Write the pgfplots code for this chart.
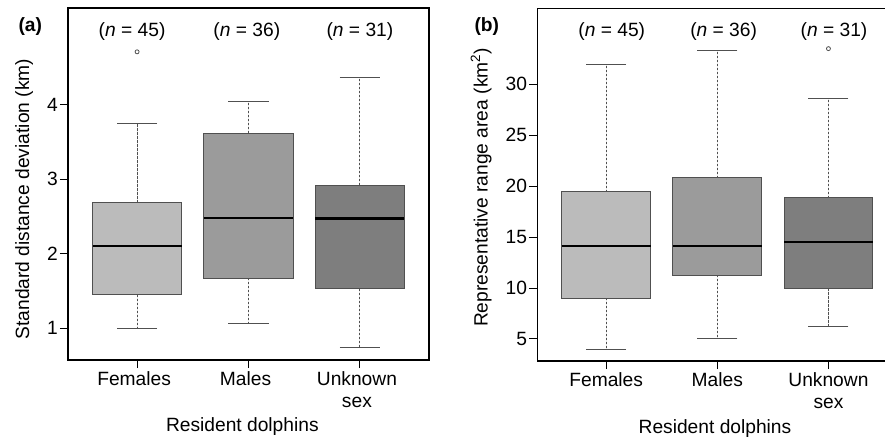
\documentclass[border=0pt]{standalone}
\usepackage{pgfplots}
\pgfplotsset{compat=1.18}
\usepgfplotslibrary{statistics}
\usepackage{fontspec}
\setmainfont{Liberation Sans}

\definecolor{femfill}{HTML}{BBBBBB}
\definecolor{malefill}{HTML}{9B9B9B}
\definecolor{unkfill}{HTML}{7E7E7E}
\definecolor{boxline}{HTML}{505050}

\newcommand\F{\fontsize{19.2}{22.5}\selectfont}

\pgfplotsset{
  dolphin/.style={
    scale only axis,
    anchor=south west,
    clip=false,
    xtick={1,2,3},
    xticklabels={Females,Males,{Unknown\\sex}},
    xticklabel style={align=center, font=\F},
    yticklabel style={font=\F, inner xsep=2pt},
    tick pos=left,
    tick align=outside,
    major tick length=8pt,
    tick style={black, line width=1pt},
    axis line style={black, line width=1.2pt},
    /pgf/number format/assume math mode=true,
    boxplot/draw direction=y,
    boxplot/every median/.style={black, line width=2.2pt, solid},
    boxplot/draw/lower whisker/.code={%
      \draw[boxline, line width=0.9pt, dash pattern=on 2.2pt off 1.8pt]
        (boxplot box cs:\pgfplotsboxplotvalue{lower quartile},0.5) --
        (boxplot box cs:\pgfplotsboxplotvalue{lower whisker},0.5);
      \draw[boxline, line width=1pt, solid]
        (boxplot whisker cs:\pgfplotsboxplotvalue{lower whisker},0) --
        (boxplot whisker cs:\pgfplotsboxplotvalue{lower whisker},1);
    },
    boxplot/draw/upper whisker/.code={%
      \draw[boxline, line width=0.9pt, dash pattern=on 2.2pt off 1.8pt]
        (boxplot box cs:\pgfplotsboxplotvalue{upper quartile},0.5) --
        (boxplot box cs:\pgfplotsboxplotvalue{upper whisker},0.5);
      \draw[boxline, line width=1pt, solid]
        (boxplot whisker cs:\pgfplotsboxplotvalue{upper whisker},0) --
        (boxplot whisker cs:\pgfplotsboxplotvalue{upper whisker},1);
    },
  },
  bx/.style={draw=boxline, line width=1pt, solid,
    mark=o, mark size=2pt,
    mark options={draw=boxline, fill=white, solid, line width=0.8pt}},
}

\begin{document}
\begin{tikzpicture}
\useasboundingbox (0,0) rectangle (885pt,437pt);

% (a) standard distance deviation
\begin{axis}[dolphin,
  at={(68pt,77pt)}, width=361pt, height=352pt,
  xmin=0.38, xmax=3.62,
  ymin=0.575, ymax=5.298,
  ytick={1,2,3,4},
  xticklabel style={xshift=-3pt},
  ylabel={Standard distance deviation (km)},
  every axis y label/.style={at={(axis description cs:-0.108,0.457)}, rotate=90, anchor=base, font=\F},
  xlabel={Resident dolphins},
  every axis x label/.style={at={(axis description cs:0.483,-0.2045)}, anchor=base, font=\F},
]
\addplot[bx, fill=femfill, boxplot prepared={draw position=1,
  lower whisker=1.0, lower quartile=1.451, median=2.10,
  upper quartile=2.686, upper whisker=3.745,
  box extend=0.8, whisker extend=0.36}]
  table[row sep=\\, y index=0] {data\\ 4.71\\};
\addplot[bx, fill=malefill, boxplot prepared={draw position=2,
  lower whisker=1.067, lower quartile=1.675, median=2.483,
  upper quartile=3.616, upper whisker=4.04,
  box extend=0.8, whisker extend=0.36}]
  coordinates {};
\addplot[bx, fill=unkfill, boxplot prepared={draw position=3,
  lower whisker=0.74, lower quartile=1.53, median=2.474,
  upper quartile=2.92, upper whisker=4.362,
  box extend=0.8, whisker extend=0.36}]
  coordinates {};
\node[font=\F, anchor=base] at (axis cs:0.955,4.915) {(\textit{n} = 45)};
\node[font=\F, anchor=base] at (axis cs:1.985,4.915) {(\textit{n} = 36)};
\node[font=\F, anchor=base] at (axis cs:3.0,4.915) {(\textit{n} = 31)};
\end{axis}

% (b) representative range area; cut at the page edge, so no right border
\begin{axis}[dolphin,
  at={(537.3pt,76pt)}, width=347.7pt, height=352.7pt,
  xmin=0.38, xmax=3.509,
  ymin=2.84, ymax=37.46,
  axis lines*=left,
  ytick={5,10,15,20,25,30},
  ylabel={Representative range area (km\textsuperscript{2})},
  every axis y label/.style={at={(axis description cs:-0.1428,0.492)}, rotate=90, anchor=base, font=\F},
  xlabel={Resident dolphins},
  every axis x label/.style={at={(axis description cs:0.511,-0.2045)}, anchor=base, font=\F},
]
\addplot[bx, fill=femfill, boxplot prepared={draw position=1,
  lower whisker=3.95, lower quartile=9.02, median=14.15,
  upper quartile=19.45, upper whisker=31.92,
  box extend=0.8, whisker extend=0.36}]
  coordinates {};
\addplot[bx, fill=malefill, boxplot prepared={draw position=2,
  lower whisker=5.07, lower quartile=11.28, median=14.15,
  upper quartile=20.82, upper whisker=33.3,
  box extend=0.8, whisker extend=0.36}]
  coordinates {};
\addplot[bx, fill=unkfill, boxplot prepared={draw position=3,
  lower whisker=6.18, lower quartile=9.97, median=14.55,
  upper quartile=18.86, upper whisker=28.56,
  box extend=0.8, whisker extend=0.36}]
  table[row sep=\\, y index=0] {data\\ 33.5\\};
\node[font=\F, anchor=base] at (axis cs:1.05,34.69) {(\textit{n} = 45)};
\node[font=\F, anchor=base] at (axis cs:2.057,34.69) {(\textit{n} = 36)};
\node[font=\F, anchor=base] at (axis cs:3.05,34.69) {(\textit{n} = 31)};
\draw[black, line width=1.2pt] (rel axis cs:0,1) -- (rel axis cs:1,1);
\end{axis}

\node[font=\F\bfseries, anchor=base west] at (15pt,405pt) {(a)};
\node[font=\F\bfseries, anchor=base west] at (471pt,405pt) {(b)};
\end{tikzpicture}
\end{document}
